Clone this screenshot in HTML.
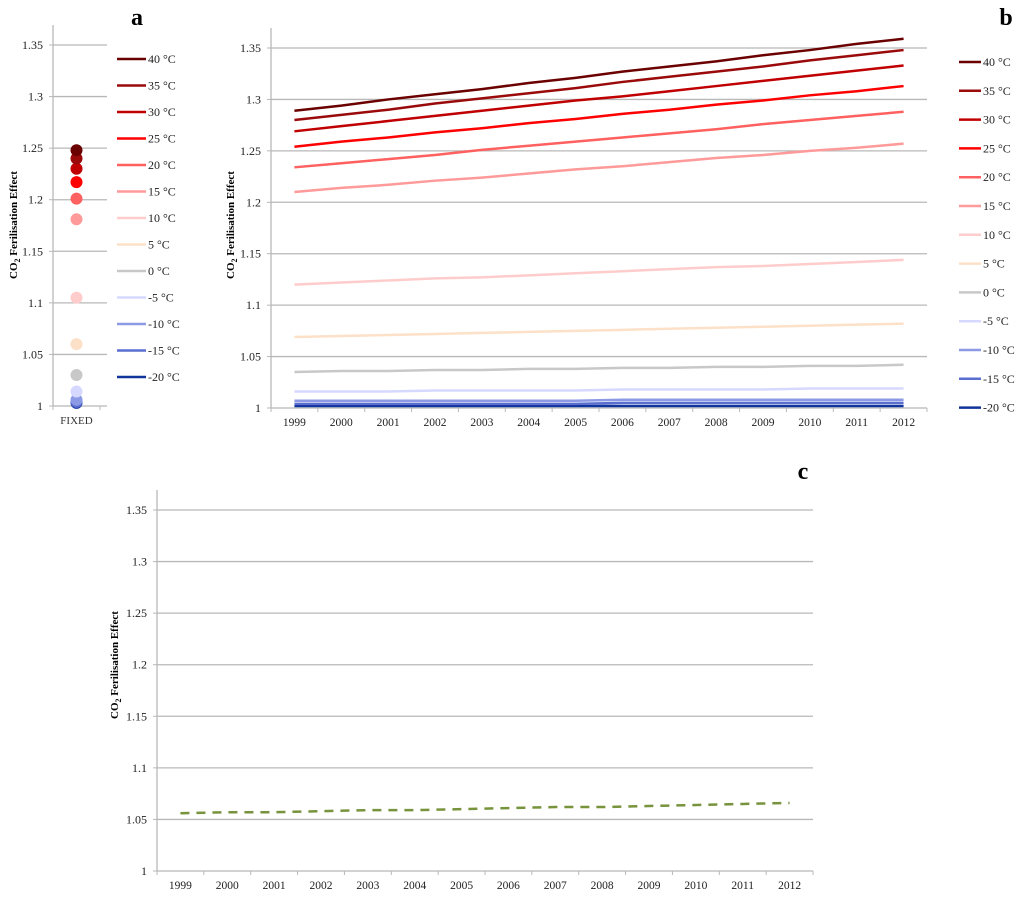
<!DOCTYPE html>
<html><head><meta charset="utf-8"><style>
html,body{margin:0;padding:0;background:#fff;}
svg{display:block;font-family:"Liberation Serif",serif;}
</style></head><body>
<svg id="s" width="1024" height="897" viewBox="0 0 1024 897" xmlns="http://www.w3.org/2000/svg"></svg>
<script>
const labels = ["40 °C","35 °C","30 °C","25 °C","20 °C","15 °C","10 °C","5 °C","0 °C","-5 °C","-10 °C","-15 °C","-20 °C"];
const colors = ["#6b0000","#9a0a0a","#c00000","#ff0000","#ff6060","#ff9a9a","#ffcccc","#fde0c8","#c8c8c8","#d6d8ff","#8c9ae6","#5a6ed0","#10349c"];
const years = ["1999","2000","2001","2002","2003","2004","2005","2006","2007","2008","2009","2010","2011","2012"];
const yTicks = [1,1.05,1.1,1.15,1.2,1.25,1.3,1.35];
const yTickLabels = ["1","1.05","1.1","1.15","1.2","1.25","1.3","1.35"];
const fixedValues = [1.248,1.240,1.230,1.217,1.201,1.181,1.105,1.060,1.030,1.014,1.006,1.004,1.003];
const s40 = [1.289,1.294,1.300,1.305,1.310,1.316,1.321,1.327,1.332,1.337,1.343,1.348,1.354,1.359];
const s35 = [1.280,1.285,1.290,1.296,1.301,1.306,1.311,1.317,1.322,1.327,1.332,1.338,1.343,1.348];
const s30 = [1.269,1.274,1.279,1.284,1.289,1.294,1.299,1.303,1.308,1.313,1.318,1.323,1.328,1.333];
const s25 = [1.254,1.259,1.263,1.268,1.272,1.277,1.281,1.286,1.290,1.295,1.299,1.304,1.308,1.313];
const s20 = [1.234,1.238,1.242,1.246,1.251,1.255,1.259,1.263,1.267,1.271,1.276,1.280,1.284,1.288];
const s15 = [1.210,1.214,1.217,1.221,1.224,1.228,1.232,1.235,1.239,1.243,1.246,1.250,1.253,1.257];
const s10 = [1.120,1.122,1.124,1.126,1.127,1.129,1.131,1.133,1.135,1.137,1.138,1.140,1.142,1.144];
const s5 = [1.069,1.070,1.071,1.072,1.073,1.074,1.075,1.076,1.077,1.078,1.079,1.080,1.081,1.082];
const s0 = [1.035,1.036,1.036,1.037,1.037,1.038,1.038,1.039,1.039,1.040,1.040,1.041,1.041,1.042];
const sm5 = [1.016,1.016,1.016,1.017,1.017,1.017,1.017,1.018,1.018,1.018,1.018,1.019,1.019,1.019];
const sm10 = [1.007,1.007,1.007,1.007,1.007,1.007,1.007,1.008,1.008,1.008,1.008,1.008,1.008,1.008];
const sm15 = [1.004,1.004,1.004,1.004,1.004,1.004,1.004,1.005,1.005,1.005,1.005,1.005,1.005,1.005];
const sm20 = [1.002,1.002,1.002,1.002,1.002,1.002,1.002,1.002,1.002,1.002,1.002,1.002,1.002,1.002];
const seriesB = [s40,s35,s30,s25,s20,s15,s10,s5,s0,sm5,sm10,sm15,sm20];
const seriesC = [1.056,1.057,1.057,1.058,1.059,1.059,1.060,1.061,1.062,1.062,1.063,1.064,1.065,1.066];

const NS="http://www.w3.org/2000/svg";
const svg=document.getElementById('s');
function el(tag,attrs,parent,text){const e=document.createElementNS(NS,tag);for(const k in attrs)e.setAttribute(k,attrs[k]);if(text!==undefined)e.textContent=text;(parent||svg).appendChild(e);return e;}

function panel(name,x0,x1,catEnd,yTop,yBot,nCats){
  const g=el('g',{});
  
  
  const yS=v=>yBot-(v-1)/0.35*(yBot-yTop);
  const step=(catEnd-x0)/nCats;
  const xS=i=>x0+step*(i+0.5);
  yTicks.forEach((t,i)=>{
    const y=yS(t);
    if(i>0){const gl=el('line',{x1:x0,x2:x1,y1:y,y2:y,stroke:'#b8b8b8','stroke-width':1.3},g);
      
      }
    el('line',{x1:x0-4,x2:x0,y1:y,y2:y,stroke:'#b8b8b8'},g);
    const tl=el('text',{x:x0-10,y:y+4,'text-anchor':'end','font-size':12,fill:'#222'},g,yTickLabels[i]);
    
    
  });
  const ya=el('line',{x1:x0,x2:x0,y1:yTop-20,y2:yBot,stroke:'#b8b8b8','stroke-width':1.3},g);
  
  
  const xa=el('line',{x1:x0,x2:x1,y1:yBot,y2:yBot,stroke:'#b8b8b8','stroke-width':1.3},g);
  
  
  for(let i=0;i<=nCats;i++){el('line',{x1:x0+step*i,x2:x0+step*i,y1:yBot,y2:yBot+4,stroke:'#b8b8b8'},g);}
  return {g,xS,yS};
}
function axisTitle(x,y){
  const t=el('text',{x:x,y:y,'text-anchor':'middle','font-size':11,'font-weight':'bold',transform:`rotate(-90 ${x} ${y})`});
  
  
  el('tspan',{},t,'CO');
  el('tspan',{'font-size':8,dy:3},t,'2');
  el('tspan',{dy:-3},t,' Ferilisation Effect');
}
function letter(x,y,ch){const t=el('text',{x:x,y:y,'font-size':24,'font-weight':'bold','text-anchor':'middle'},svg,ch);
  
  }
function legend(name,lx,tx,y0,dy){
  const g=el('g',{});
  
  
  labels.forEach((l,i)=>{const y=y0+dy*i;
    const e=el('g',{},g);
    
    
    el('line',{x1:lx,x2:tx-2,y1:y,y2:y,stroke:colors[i],'stroke-width':2.5},e);
    el('text',{x:tx,y:y+4,'font-size':12,fill:'#222'},e,l);});
}

// Panel a
const A=panel('panel-a-chart',53,107,100,45,406,1);
const fl=el('text',{x:A.xS(0),y:424,'text-anchor':'middle','font-size':11,fill:'#333'},A.g,'FIXED');


for(let i=fixedValues.length-1;i>=0;i--){const c=el('circle',{cx:A.xS(0),cy:A.yS(fixedValues[i]),r:6,fill:colors[i]},A.g);
  
  }
axisTitle(17,225);
legend('legend-a',117,148,59,26.5);
letter(137,25,'a');

// Panel b
const B=panel('panel-b-chart',271,927,927,48,408,years.length);
years.forEach((y,i)=>{el('text',{x:B.xS(i),y:426,'text-anchor':'middle','font-size':11.5,fill:'#222'},B.g,y);});
for(let k=seriesB.length-1;k>=0;k--){
  const p=el('polyline',{points:seriesB[k].map((v,i)=>B.xS(i)+','+B.yS(v)).join(' '),fill:'none',stroke:colors[k],'stroke-width':2.5},B.g);
  
  
}
axisTitle(234,225);
legend('legend-b',959,983,62,28.8);
letter(1006,25,'b');

// Panel c
const C=panel('panel-c-chart',157,813,813,510,871,years.length);
years.forEach((y,i)=>{el('text',{x:C.xS(i),y:889,'text-anchor':'middle','font-size':11.5,fill:'#222'},C.g,y);});
const pc=el('polyline',{points:seriesC.map((v,i)=>C.xS(i)+','+C.yS(v)).join(' '),fill:'none',stroke:'#77933c','stroke-width':2.5,'stroke-dasharray':'9,7'},C.g);


axisTitle(118,665);
letter(803,479,'c');
</script>
</body></html>
